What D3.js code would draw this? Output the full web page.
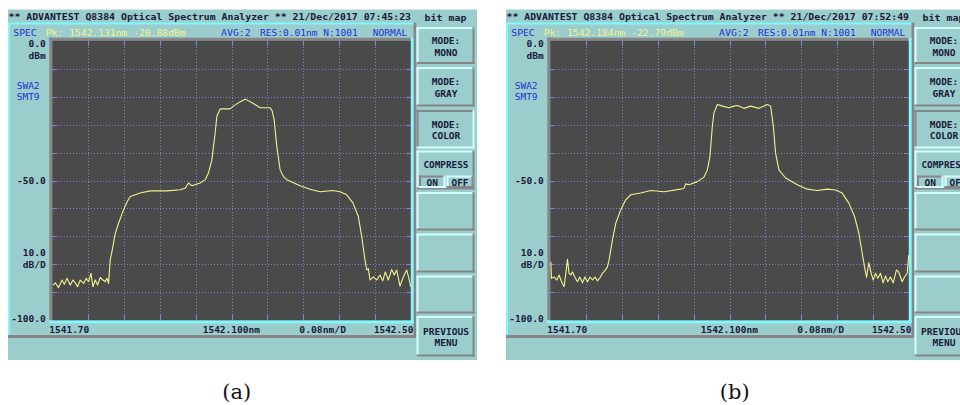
<!DOCTYPE html>
<html><head><meta charset="utf-8">
<script src="https://cdn.jsdelivr.net/npm/d3@7"></script>
<style>html,body{margin:0;padding:0;background:#fff;} svg{display:block;}</style>
</head><body>
<svg id="chart" width="960" height="405"></svg>
<script>
// ---------- data ----------
const wavelengthA = [1541.7015,1541.7067,1541.7140,1541.7216,1541.7268,1541.7328,1541.7401,1541.7461,1541.7513,1541.7564,1541.7624,1541.7699,1541.7758,1541.7810,1541.7863,1541.7907,1541.7959,1541.8010,1541.8071,1541.8131,1541.8182,1541.8220,1541.8256,1541.8293,1541.8338,1541.8405,1541.8479,1541.8590,1541.8673,1541.8740,1541.8962,1541.9186,1541.9558,1541.9855,1541.9966,1542.0040,1542.0116,1542.0300,1542.0412,1542.0486,1542.0562,1542.0635,1542.0673,1542.0747,1542.0970,1542.1043,1542.1193,1542.1310,1542.1460,1542.1639,1542.1862,1542.1906,1542.1951,1542.2011,1542.2085,1542.2160,1542.2234,1542.2531,1542.2754,1542.2977,1542.3267,1542.3423,1542.3572,1542.3713,1542.3831,1542.3907,1542.3980,1542.4018,1542.4054,1542.4092,1542.4166,1542.4242,1542.4315,1542.4375,1542.4433,1542.4500,1542.4576,1542.4634,1542.4687,1542.4761,1542.4835,1542.4911,1542.4969,1542.5000];
const powerA = [-87.4,-86.6,-88.3,-85.6,-87.1,-85.0,-87.4,-85.6,-86.6,-88.0,-85.6,-86.8,-85.0,-86.2,-83.2,-88.0,-85.6,-87.4,-84.7,-85.6,-86.2,-85.0,-86.8,-78.4,-74.9,-68.9,-65.3,-60.5,-57.5,-55.7,-54.5,-53.7,-53.7,-53.3,-52.8,-50.9,-51.9,-50.9,-49.7,-47.3,-42.6,-33.0,-27.0,-24.4,-24.4,-23.4,-21.8,-20.9,-22.2,-24.0,-24.0,-25.0,-28.2,-37.8,-46.2,-48.6,-49.7,-51.9,-53.1,-54.0,-53.6,-54.0,-55.1,-58.1,-62.9,-70.1,-78.5,-82.0,-81.5,-85.6,-84.5,-85.6,-83.8,-85.9,-82.7,-85.6,-81.8,-83.8,-82.0,-87.8,-84.5,-82.0,-85.6,-88.0];
const wavelengthB = [1541.7011,1541.7027,1541.7085,1541.7145,1541.7197,1541.7250,1541.7308,1541.7346,1541.7384,1541.7419,1541.7457,1541.7495,1541.7546,1541.7607,1541.7658,1541.7718,1541.7770,1541.7830,1541.7888,1541.7941,1541.7999,1541.8053,1541.8111,1541.8164,1541.8215,1541.8276,1541.8311,1541.8387,1541.8461,1541.8572,1541.8684,1541.8795,1541.9018,1541.9241,1541.9538,1541.9910,1541.9984,1542.0022,1542.0096,1542.0283,1542.0430,1542.0506,1542.0564,1542.0617,1542.0653,1542.0729,1542.0841,1542.0988,1542.1099,1542.1175,1542.1322,1542.1472,1542.1657,1542.1844,1542.1918,1542.1978,1542.2029,1542.2103,1542.2253,1542.2514,1542.2737,1542.2960,1542.3183,1542.3367,1542.3516,1542.3664,1542.3792,1542.3888,1542.3963,1542.4014,1542.4059,1542.4110,1542.4163,1542.4208,1542.4260,1542.4310,1542.4370,1542.4430,1542.4482,1542.4533,1542.4593,1542.4654,1542.4727,1542.4779,1542.4854,1542.4906,1542.4966,1542.5000];
const powerB = [-79.1,-85.0,-84.5,-85.6,-83.8,-86.2,-88.0,-83.2,-78.2,-83.2,-83.8,-82.7,-84.5,-86.2,-84.5,-86.6,-84.5,-86.2,-84.5,-85.6,-84.5,-85.9,-84.7,-83.2,-82.3,-80.9,-78.5,-71.3,-65.3,-60.5,-56.9,-55.1,-54.5,-53.6,-54.0,-53.1,-52.8,-51.2,-51.5,-50.4,-48.8,-46.2,-41.4,-30.6,-25.8,-22.8,-23.4,-24.0,-23.4,-23.2,-24.2,-23.4,-24.2,-22.8,-23.4,-30.6,-40.2,-46.2,-49.1,-51.5,-53.1,-53.6,-53.1,-53.4,-54.5,-58.1,-62.9,-68.9,-76.1,-80.9,-84.7,-79.4,-83.2,-85.6,-83.2,-85.0,-83.2,-86.6,-84.1,-86.2,-84.5,-86.6,-82.0,-82.8,-86.2,-84.5,-83.2,-76.7];

const xDomain = [1541.70, 1542.50];
const yDomain = [-100, 0];
const xDivision = 0.08;
const yDivision = 10;
const xTickLabels = ["1541.70", "1542.100nm", "0.08nm/D", "1542.50"];
const yTickLabels = ["0.0", "dBm", "-50.0", "10.0", "dB/D", "-100.0"];
const sideLabels = ["SWA2", "SMT9"];
const panelTitles = ["** ADVANTEST Q8384 Optical Spectrum Analyzer **  21/Dec/2017 07:45:23",
                     "** ADVANTEST Q8384 Optical Spectrum Analyzer **  21/Dec/2017 07:52:49"];
const panelMarkers = ["Pk: 1542.131nm -20.88dBm", "Pk: 1542.184nm -22.79dBm"];
const headerLabels = ["SPEC", "AVG:2", "RES:0.01nm N:1001", "NORMAL"];
const buttonLabels = [["MODE:", "MONO"], ["MODE:", "GRAY"], ["MODE:", "COLOR"], ["COMPRESS"], [], [], [], ["PREVIOUS", "MENU"]];
const captions = ["(a)", "(b)"];

// ---------- style ----------
const TEAL = "#9bcdcd", CYAN = "#80f8ff", LIGHT = "#d4ffff", GRAY = "#868686", PLOT = "#4a4a4a";
const GRID = "#8080d4", TRACE = "#f2f28e", BLUE = "#2230d8", YEL = "#f4f48a", INK = "#1a1a3a";
const MONO = "'DejaVu Sans Mono', 'Liberation Mono', monospace";

const svg = d3.select("#chart");

function txt(g, x, y, s, o = {}) {
  const t = g.append("text").attr("x", x).attr("y", y).text(s)
    .attr("font-family", MONO).attr("font-size", o.size || 9.5)
    .attr("fill", o.fill || INK)
    .attr("text-anchor", o.anchor || "start");
  if (o.weight) t.attr("font-weight", o.weight);
  if (o.len) t.attr("textLength", o.len).attr("lengthAdjust", "spacingAndGlyphs");
  return t;
}
function rect(g, x0, y0, x1, y1, fill) {
  return g.append("rect").attr("x", x0).attr("y", y0).attr("width", x1 - x0).attr("height", y1 - y0).attr("fill", fill);
}
function bevel(g, x0, y0, x1, y1, raised) {
  rect(g, x0, y0, x1, y1, TEAL);
  const hi = raised ? LIGHT : GRAY, lo = raised ? GRAY : LIGHT;
  rect(g, x0, y0, x1, y0 + 2, hi);
  rect(g, x0, y0, x0 + 2, y1, hi);
  rect(g, x0, y1 - 2, x1, y1, lo);
  rect(g, x1 - 2, y0, x1, y1, lo);
}

function drawPanel(g, wl, pw, title, marker) {
  // screen
  rect(g, 8, 9.5, 477, 360, TEAL);
  txt(g, 8.5, 19.5, title, {len: 402.5, weight: "bold"});
  txt(g, 445.5, 20.5, "bit map", {anchor: "middle", len: 42, weight: "bold"});

  // inner display frame
  rect(g, 8, 22.5, 416.5, 24.5, CYAN);
  rect(g, 8, 22.5, 10, 337.5, CYAN);
  rect(g, 413.5, 22.5, 416.5, 337.5, GRAY);
  rect(g, 8, 335, 416.5, 338, GRAY);

  // header row
  txt(g, 13.3, 35.8, headerLabels[0], {fill: BLUE, len: 23.4});
  txt(g, 45.7, 35.8, marker, {fill: YEL, len: 140});
  txt(g, 221, 35.8, headerLabels[1], {fill: BLUE, len: 29.7});
  txt(g, 260, 35.8, headerLabels[2], {fill: BLUE, len: 97.7});
  txt(g, 372.7, 35.8, headerLabels[3], {fill: BLUE, len: 34.6});

  // plot area
  const x = d3.scaleLinear().domain(xDomain).range([52.3, 410.7]);
  const y = d3.scaleLinear().domain(yDomain).range([320.3, 40.7]);
  rect(g, 49.3, 37.7, 410.7, 40.7, GRAY);
  rect(g, 49.3, 37.7, 52.3, 320.3, GRAY);
  rect(g, 410.7, 37.7, 413.5, 323.3, CYAN);
  rect(g, 49.3, 320.3, 413.5, 323.3, CYAN);
  rect(g, 52.3, 40.7, 410.7, 320.3, PLOT);

  const xs = d3.range(1, 10).map(i => xDomain[0] + i * xDivision);
  const ys = d3.range(1, 10).map(i => yDomain[0] + i * yDivision);
  const grid = g.append("g").attr("stroke", GRID).attr("stroke-width", 1).attr("shape-rendering", "crispEdges");
  grid.selectAll(".vx").data(xs).join("line")
    .attr("x1", d => Math.round(x(d)) + 0.5).attr("x2", d => Math.round(x(d)) + 0.5)
    .attr("y1", y(0)).attr("y2", y(-100)).attr("stroke-dasharray", "1,2");
  grid.selectAll(".hy").data(ys).join("line")
    .attr("y1", d => Math.round(y(d)) + 0.5).attr("y2", d => Math.round(y(d)) + 0.5)
    .attr("x1", x(xDomain[0])).attr("x2", x(xDomain[1])).attr("stroke-dasharray", "1,2");
  // solid edge ticks
  grid.selectAll(".tb").data(xs).join("line")
    .attr("x1", d => Math.round(x(d)) + 0.5).attr("x2", d => Math.round(x(d)) + 0.5)
    .attr("y1", y(-100) - 5).attr("y2", y(-100));
  grid.selectAll(".tt").data(xs).join("line")
    .attr("x1", d => Math.round(x(d)) + 0.5).attr("x2", d => Math.round(x(d)) + 0.5)
    .attr("y1", y(0)).attr("y2", y(0) + 5);
  grid.selectAll(".tl").data(ys).join("line")
    .attr("y1", d => Math.round(y(d)) + 0.5).attr("y2", d => Math.round(y(d)) + 0.5)
    .attr("x1", x(xDomain[0])).attr("x2", x(xDomain[0]) + 5);
  grid.selectAll(".tr").data(ys).join("line")
    .attr("y1", d => Math.round(y(d)) + 0.5).attr("y2", d => Math.round(y(d)) + 0.5)
    .attr("x1", x(xDomain[1]) - 5).attr("x2", x(xDomain[1]));

  const pts = wl.map((w, i) => [w, pw[i]]);
  g.append("path").datum(pts)
    .attr("fill", "none").attr("stroke", TRACE).attr("stroke-width", 1.1)
    .attr("stroke-linejoin", "round")
    .attr("d", d3.line().x(d => x(d[0])).y(d => y(d[1])));

  // y labels
  const B = {anchor: "end", weight: "bold"};
  txt(g, 45.7, 46.8, yTickLabels[0], B);
  txt(g, 45.7, 58.5, yTickLabels[1], B);
  txt(g, 45.7, y(-50) + 3.5, yTickLabels[2], B);
  txt(g, 45.7, 256.2, yTickLabels[3], B);
  txt(g, 45.7, 267.5, yTickLabels[4], B);
  txt(g, 45.7, 321.8, yTickLabels[5], B);
  txt(g, 16.7, 88.5, sideLabels[0], {fill: BLUE});
  txt(g, 16.7, 100.2, sideLabels[1], {fill: BLUE});

  // x labels
  txt(g, 49.3, 332.8, xTickLabels[0], {len: 40, weight: "bold"});
  txt(g, 202.7, 332.8, xTickLabels[1], {len: 57.3, weight: "bold"});
  txt(g, 299.3, 332.8, xTickLabels[2], {len: 46.7, weight: "bold"});
  txt(g, 374, 332.8, xTickLabels[3], {len: 39.3, weight: "bold"});

  // soft-key buttons
  const spans = [[27, 64], [67, 106.5], [110, 148.5], [150.5, 189.5], [192, 230.5], [233.5, 272.5], [275.5, 313.5], [316, 356.5]];
  spans.forEach((s, i) => {
    bevel(g, 416.5, s[0], 474.5, s[1], i !== 2);
    const lab = buttonLabels[i];
    const cx = 446;
    if (i === 3) {
      txt(g, cx, s[0] + 17, lab[0], {anchor: "middle", weight: "bold", len: 45});
      bevel(g, 419, 175.5, 445.5, 188, false);
      bevel(g, 446.5, 175.5, 473.5, 188, true);
      txt(g, 432.2, 185.5, "ON", {anchor: "middle", weight: "bold", len: 11.5});
      txt(g, 460, 185.5, "OFF", {anchor: "middle", weight: "bold", len: 17});
    } else if (lab.length === 2) {
      const mid = (s[0] + s[1]) / 2;
      txt(g, cx, mid - 1.5, lab[0], {anchor: "middle", weight: "bold"});
      txt(g, cx, mid + 10, lab[1], {anchor: "middle", weight: "bold"});
    }
  });
}

const gA = svg.append("g");
drawPanel(gA, wavelengthA, powerA, panelTitles[0], panelMarkers[0]);
const gB = svg.append("g").attr("transform", "translate(498,0)");
drawPanel(gB, wavelengthB, powerB, panelTitles[1], panelMarkers[1]);

// captions
[236.7, 734.7].forEach((cx, i) => {
  svg.append("text").attr("x", cx).attr("y", 398.5).attr("text-anchor", "middle")
    .attr("font-family", "'DejaVu Serif', 'Liberation Serif', serif").attr("font-size", 21)
    .attr("fill", "#111").text(captions[i]);
});
</script>
</body></html>
